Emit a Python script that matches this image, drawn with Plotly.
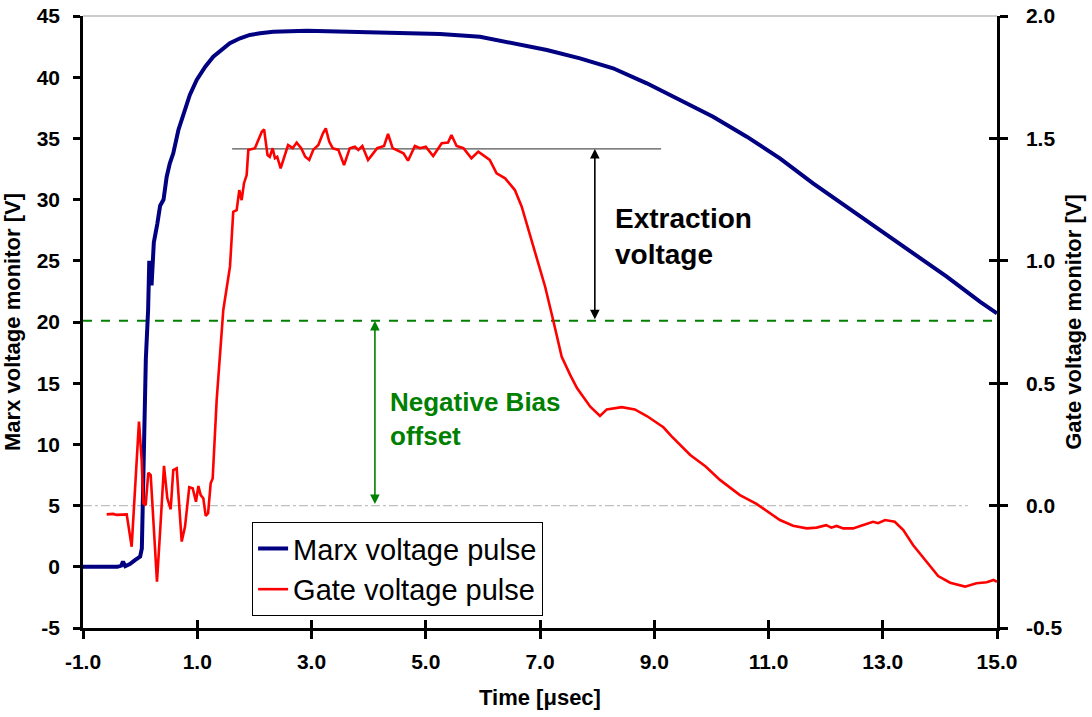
import plotly.graph_objects as go

# ---------------- data ----------------
marx_t = [-1.0, -0.40, -0.33, -0.30, -0.26, -0.18, -0.09, 0.0, 0.03, 0.056,
          0.10, 0.14, 0.16, 0.20, 0.24, 0.30, 0.35, 0.41, 0.465, 0.52,
          0.58, 0.67, 0.76, 0.87, 0.99, 1.14, 1.28, 1.43, 1.57, 1.75,
          1.92, 2.10, 2.33, 2.92, 4.08, 5.25, 5.95, 6.53, 7.12, 7.70,
          8.28, 8.87, 9.45, 10.03, 10.62, 11.20, 11.78, 12.37, 12.95, 13.54,
          14.12, 14.70, 15.0]
marx_v = [0.0, 0.0, 0.1, 0.42, 0.05, 0.23, 0.55, 0.83, 1.5, 8.7,
          17.0, 21.0, 25.0, 23.0, 26.5, 28.0, 29.5, 30.0, 31.87, 32.96,
          33.78, 35.69, 37.05, 38.55, 39.77, 40.86, 41.68, 42.28, 42.77, 43.18,
          43.45, 43.59, 43.72, 43.80, 43.69, 43.53, 43.31, 42.80, 42.22, 41.54,
          40.73, 39.50, 38.14, 36.77, 35.14, 33.37, 31.33, 29.42, 27.52, 25.61,
          23.70, 21.66, 20.71]

gate_t = [-0.585, -0.47, -0.41, -0.32, -0.235, -0.148, -0.10, -0.02, 0.027, 0.056,
          0.097, 0.143, 0.185, 0.243, 0.295, 0.348, 0.418, 0.476, 0.535, 0.58,
          0.64, 0.728, 0.786, 0.86, 0.92, 0.978, 1.02, 1.06, 1.106, 1.148,
          1.19, 1.235, 1.27, 1.34, 1.386, 1.456, 1.573, 1.63, 1.69, 1.736,
          1.777, 1.818, 1.865, 1.894, 2.01, 2.13, 2.17, 2.23, 2.27, 2.32,
          2.36, 2.40, 2.46, 2.53, 2.59, 2.67, 2.74, 2.82, 2.89, 2.96,
          3.03, 3.12, 3.20, 3.25, 3.31, 3.37, 3.47, 3.57, 3.67, 3.76,
          3.82, 3.89, 3.99, 4.08, 4.15, 4.27, 4.34, 4.42, 4.52, 4.61,
          4.69, 4.81, 4.90, 5.00, 5.13, 5.28, 5.39, 5.45, 5.54, 5.66,
          5.80, 5.92, 6.12, 6.24, 6.39, 6.56, 6.68, 6.82, 6.97, 7.09,
          7.23, 7.38, 7.53, 7.65, 7.88, 8.05, 8.17, 8.43, 8.66, 8.87,
          9.16, 9.30, 9.63, 9.90, 10.15, 10.50, 10.79, 11.03, 11.20, 11.43,
          11.67, 11.84, 12.01, 12.10, 12.19, 12.31, 12.48, 12.66, 12.83, 12.92,
          13.04, 13.21, 13.36, 13.53, 13.77, 13.97, 14.18, 14.44, 14.64, 14.82,
          14.94, 15.0]
gate_v = [-0.036, -0.034, -0.038, -0.036, -0.036, -0.168, 0.009, 0.343, 0.186, 0.009,
          0.002, 0.134, 0.125, -0.113, -0.311, -0.113, 0.162, 0.030, -0.015, 0.145,
          0.152, -0.147, -0.086, 0.075, 0.071, 0.016, 0.080, 0.043, 0.030, -0.042,
          -0.031, 0.091, 0.111, 0.431, 0.595, 0.799, 0.976, 1.20, 1.207, 1.289,
          1.248, 1.317, 1.35, 1.453, 1.46, 1.527, 1.537, 1.432, 1.425, 1.46,
          1.419, 1.425, 1.378, 1.425, 1.473, 1.46, 1.483, 1.46, 1.425, 1.412,
          1.453, 1.473, 1.521, 1.541, 1.487, 1.46, 1.453, 1.391, 1.46, 1.466,
          1.453, 1.469, 1.412, 1.439, 1.46, 1.469, 1.518, 1.46, 1.45, 1.439,
          1.409, 1.469, 1.46, 1.466, 1.428, 1.48, 1.483, 1.514, 1.469, 1.46,
          1.419, 1.446, 1.412, 1.357, 1.337, 1.289, 1.221, 1.112, 0.990, 0.894,
          0.758, 0.608, 0.533, 0.479, 0.404, 0.366, 0.393, 0.402, 0.393, 0.366,
          0.320, 0.284, 0.207, 0.160, 0.105, 0.043, 0.007, -0.031, -0.059, -0.082,
          -0.093, -0.090, -0.080, -0.090, -0.083, -0.093, -0.093, -0.079, -0.066, -0.072,
          -0.059, -0.066, -0.100, -0.161, -0.229, -0.288, -0.315, -0.331, -0.317, -0.313,
          -0.304, -0.311]

x_ticks = [-1, 1, 3, 5, 7, 9, 11, 13, 15]
x_tick_text = ["-1.0", "1.0", "3.0", "5.0", "7.0", "9.0", "11.0", "13.0", "15.0"]
y_left_ticks = [-5, 0, 5, 10, 15, 20, 25, 30, 35, 40, 45]
y_left_text = ["-5", "0", "5", "10", "15", "20", "25", "30", "35", "40", "45"]
y_right_ticks = [-0.5, 0.0, 0.5, 1.0, 1.5, 2.0]
y_right_text = ["-0.5", "0.0", "0.5", "1.0", "1.5", "2.0"]

extraction_level = 34.14      # Marx-axis units (gate flat-top)
bias_level = 20.1             # green dashed line
zero_gate_level = 5.0         # gate 0 V on the Marx axis
ref_line_x = [1.61, 9.12]
zero_line_x = [-1.0, 14.49]
extraction_arrow_x = 7.96
bias_arrow_x = 4.11

# ---------------- figure ----------------
FONT = "Arial, Liberation Sans, sans-serif"
tickfont = dict(family=FONT, size=21, color="black", weight="bold")
titlefont = dict(family=FONT, size=22, color="black", weight="bold")

fig = go.Figure()
fig.add_trace(go.Scatter(x=marx_t, y=marx_v, mode="lines", name="Marx voltage pulse",
                         line=dict(color="#000080", width=4)))
fig.add_trace(go.Scatter(x=gate_t, y=gate_v, mode="lines", name="Gate voltage pulse",
                         yaxis="y2", line=dict(color="#ff0000", width=2.6)))
# invisible helpers so the crossing-tick overlay axes get drawn
fig.add_trace(go.Scatter(x=[-1], y=[-5], xaxis="x2", yaxis="y", mode="markers",
                         marker=dict(opacity=0), showlegend=False, hoverinfo="skip"))
fig.add_trace(go.Scatter(x=[-1], y=[0], xaxis="x", yaxis="y3", mode="markers",
                         marker=dict(opacity=0), showlegend=False, hoverinfo="skip"))

# reference lines
fig.add_shape(type="line", xref="x", yref="y", x0=-1, x1=15, y0=bias_level, y1=bias_level,
              line=dict(color="#008000", width=2, dash="dash"), layer="below")
fig.add_shape(type="line", xref="x", yref="y", x0=zero_line_x[0], x1=zero_line_x[1],
              y0=zero_gate_level, y1=zero_gate_level,
              line=dict(color="#c0c0c0", width=1.2, dash="dashdot"), layer="below")
fig.add_shape(type="line", xref="x", yref="y", x0=ref_line_x[0], x1=ref_line_x[1],
              y0=extraction_level, y1=extraction_level,
              line=dict(color="#555555", width=1.2), layer="below")
# top frame
fig.add_shape(type="line", xref="paper", yref="paper", x0=0, x1=1, y0=1, y1=1,
              line=dict(color="#999999", width=1))

# arrows
fig.add_annotation(x=extraction_arrow_x, y=extraction_level, ax=extraction_arrow_x, ay=bias_level,
                   xref="x", yref="y", axref="x", ayref="y", text="", showarrow=True,
                   arrowhead=2, startarrowhead=2, arrowside="end+start",
                   arrowsize=1.2, startarrowsize=1.2, arrowwidth=1.6, arrowcolor="black")
fig.add_annotation(x=bias_arrow_x, y=bias_level, ax=bias_arrow_x, ay=zero_gate_level,
                   xref="x", yref="y", axref="x", ayref="y", text="", showarrow=True,
                   arrowhead=2, startarrowhead=2, arrowside="end+start",
                   arrowsize=1.2, startarrowsize=1.2, arrowwidth=1.6, arrowcolor="#008000")

# labels
fig.add_annotation(x=8.28, y=26.95, xref="x", yref="y", xanchor="left", yanchor="middle",
                   text="Extraction<br>voltage", showarrow=False, align="left",
                   font=dict(family=FONT, size=28, color="black", weight="bold"))
fig.add_annotation(x=4.34, y=12.05, xref="x", yref="y", xanchor="left", yanchor="middle",
                   text="Negative Bias<br>offset", showarrow=False, align="left",
                   font=dict(family=FONT, size=26, color="#008000", weight="bold"))

fig.update_layout(
    width=1092, height=717,
    margin=dict(l=83, r=95, t=16, b=89, autoexpand=False),
    paper_bgcolor="white", plot_bgcolor="white",
    showlegend=True,
    legend=dict(x=0.185, y=0.173, xanchor="left", yanchor="top",
                bgcolor="white", bordercolor="black", borderwidth=1,
                font=dict(family=FONT, size=29, color="black"),
                tracegroupgap=0, itemwidth=30),
    xaxis=dict(range=[-1, 15], tickvals=x_ticks, ticktext=x_tick_text, automargin=False,
               showline=True, linecolor="black", linewidth=2.5,
               ticks="outside", ticklen=8, tickwidth=2.5, tickcolor="black",
               showgrid=False, zeroline=False, tickfont=tickfont,
               ticklabelstandoff=5, ticklabeloverflow="allow",
               title=dict(text="Time [μsec]", font=titlefont, standoff=18)),
    xaxis2=dict(range=[-1, 15], tickvals=x_ticks, overlaying="x", anchor="y", side="bottom",
                showline=False, ticks="inside", ticklen=8, tickwidth=2.5, tickcolor="black",
                showticklabels=False, showgrid=False, zeroline=False, automargin=False),
    yaxis=dict(range=[-5, 45], tickvals=y_left_ticks, ticktext=y_left_text, automargin=False,
               showline=True, linecolor="black", linewidth=2.5,
               ticks="outside", ticklen=7, tickwidth=2.5, tickcolor="black",
               showgrid=False, zeroline=False, tickfont=tickfont,
               ticklabelstandoff=9, ticklabeloverflow="allow",
               title=dict(text="Marx voltage monitor [V]", font=titlefont, standoff=12)),
    yaxis2=dict(range=[-0.5, 2.0], tickvals=y_right_ticks, ticktext=y_right_text,
                overlaying="y", side="right", anchor="x", automargin=False,
                showline=True, linecolor="black", linewidth=2.5,
                ticks="outside", ticklen=8, tickwidth=2.5, tickcolor="black",
                showgrid=False, zeroline=False, tickfont=tickfont,
                ticklabelstandoff=14, ticklabeloverflow="allow",
                title=dict(text="Gate voltage monitor [V]", font=titlefont, standoff=5)),
    yaxis3=dict(range=[-0.5, 2.0], tickvals=y_right_ticks, overlaying="y", side="right",
                anchor="x", showline=False, ticks="inside", ticklen=8, tickwidth=2.5,
                tickcolor="black", showticklabels=False, showgrid=False, zeroline=False,
                automargin=False),
)

# remove the default 8 px page margin so the figure fills the window exactly
fig.write_html("out.html", config={"displayModeBar": False},
               post_script="document.body.style.margin='0';document.body.style.overflow='hidden';")
